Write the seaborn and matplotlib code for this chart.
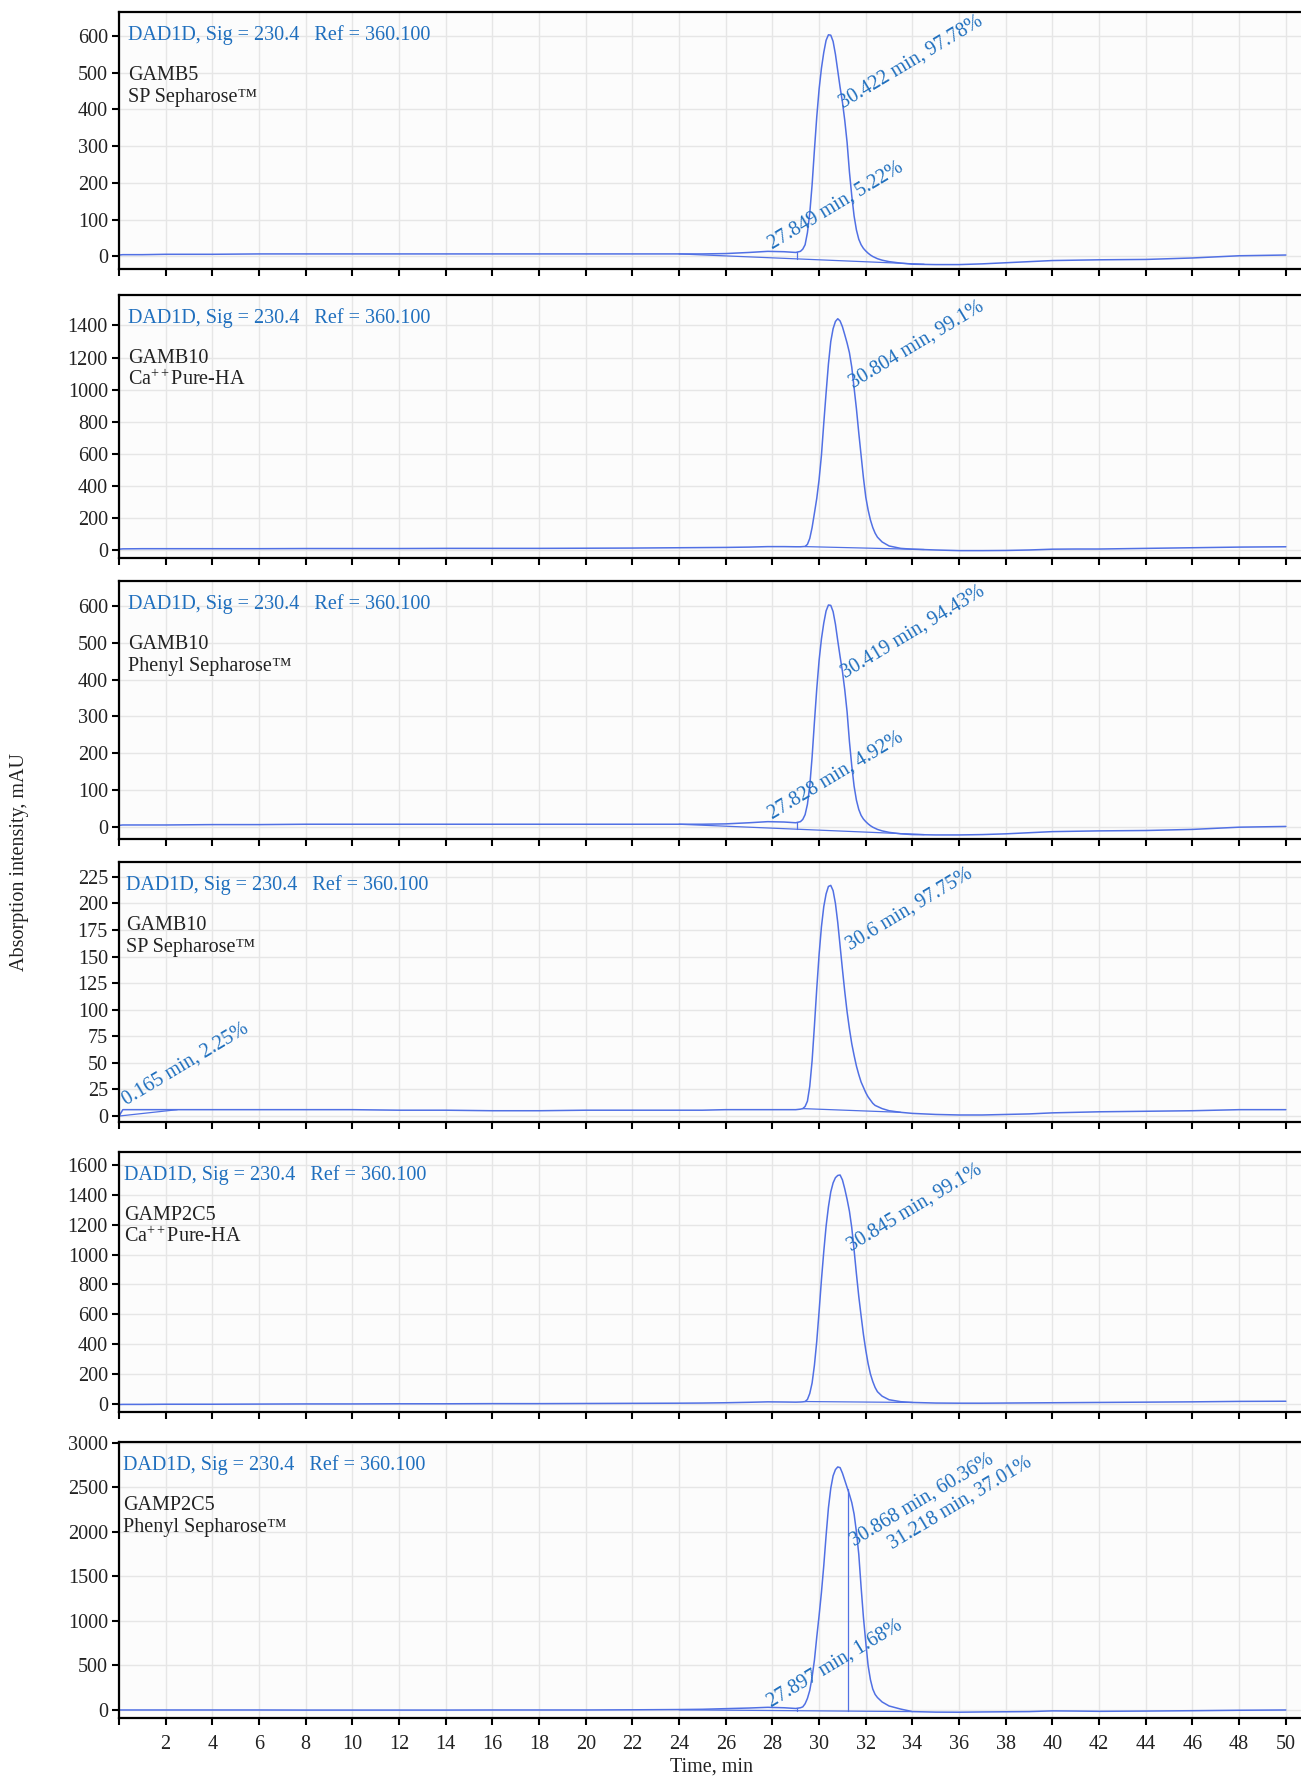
import numpy as np
import pandas as pd
import matplotlib
matplotlib.use("Agg")
import matplotlib.pyplot as plt
import seaborn as sns

# ---------------------------------------------------------------- data
# retention time grid shared by all six chromatograms (min)
time_min = [0, 0.165, 1, 2, 4, 6, 8, 10, 12, 14, 16, 18, 20, 22, 24, 25, 26, 27, 27.8, 28.5,
            29.0, 29.2, 29.3, 29.4,
            29.5, 29.6, 29.7, 29.8, 29.9, 30.0, 30.1, 30.2, 30.3, 30.4, 30.5, 30.6, 30.7, 30.8,
            30.9, 31.0, 31.1, 31.2, 31.3, 31.4, 31.5, 31.6, 31.7, 31.8, 31.9, 32.0, 32.1, 32.2,
            32.3, 32.4, 32.5,
            32.7, 33.0, 33.5, 34,
            35, 36, 37, 38, 39, 40, 41, 42,
            44, 46, 48, 50]

# absorbance at 230.4 nm (mAU)
gamb5_sp = [4, 5, 5, 6, 6, 7, 7, 7, 7, 7, 7, 7, 7, 7, 7, 7, 8, 11, 14, 13,
            11, 14, 20, 32,
            65, 118, 195, 290, 380, 455, 512, 555, 588, 603, 602, 585, 550, 505,
            460, 420, 370, 310, 230, 165, 110, 72, 47, 32, 22, 15, 9, 4,
            0, -3, -6,
            -10, -14, -18, -21,
            -22, -22, -20, -17, -14, -11, -10, -9,
            -8, -4, 2, 4]

gamb10_ca = [5, 7, 8, 8, 8, 8, 9, 9, 9, 10, 10, 10, 11, 12, 14, 15, 16, 18, 21, 21,
             20, 20, 21, 22,
             35, 72, 140, 230, 322, 440, 590, 790, 980, 1160, 1300, 1380, 1425, 1442,
             1428, 1392, 1342, 1290, 1230, 1140, 1010, 880, 730, 590, 450, 330, 250, 187,
             140, 105, 80,
             50, 25, 10, 5,
             0, -4, -4, -3, 0, 5, 6, 6,
             10, 14, 18, 20]

gamb10_phenyl = [5, 6, 6, 6, 7, 7, 8, 8, 8, 8, 8, 8, 8, 8, 8, 8, 9, 12, 15, 14,
                 12, 15, 21, 34,
                 62, 112, 190, 285, 375, 452, 510, 553, 586, 602, 601, 584, 550, 505,
                 462, 422, 372, 312, 232, 166, 111, 73, 48, 32, 22, 15, 9, 4,
                 0, -3, -6,
                 -10, -14, -18, -20,
                 -21, -21, -20, -18, -15, -12, -11, -10,
                 -9, -6, 0, 2]

gamb10_sp = [0, 6, 6, 6, 6, 6, 6, 6, 5.5, 5.5, 5, 5, 5.5, 5.5, 5.5, 5.5, 6, 6, 6, 6,
             6, 6.5, 7, 9,
             14, 28, 52, 85, 120, 152, 178, 197, 209, 216, 217, 212, 200, 182,
             160, 138, 117, 98, 82, 68, 57, 47, 39, 32, 27, 22, 18, 15,
             12, 10, 9,
             7, 5, 3.5, 2.5,
             1.5, 1, 1, 1.5, 2, 3, 3.5, 4,
             4.5, 5, 6, 6]

gamp2c5_ca = [-4, -3, -3, -2, -2, -1, 0, 0, 1, 1, 2, 2, 3, 4, 5, 6, 8, 11, 14, 13,
              12, 13, 14, 16,
              30, 70, 140, 260, 420, 620, 830, 1020, 1190, 1320, 1420, 1480, 1515, 1530,
              1533, 1500, 1440, 1370, 1290, 1180, 1030, 870, 720, 590, 465, 360, 270, 200,
              150, 110, 82,
              52, 28, 15, 10,
              6, 5, 5, 6, 7, 8, 9, 10,
              12, 14, 17, 18]

gamp2c5_phenyl = [0, 0, 0, 0, 0, 0, -1, -1, -1, -1, 0, 0, 0, 2, 5, 8, 15, 22, 30, 25,
                  17, 25, 35, 70,
                  130, 220, 370, 560, 820, 1060, 1320, 1620, 1960, 2270, 2490, 2630, 2700, 2730,
                  2722, 2660, 2580, 2500, 2420, 2330, 2200, 2000, 1750, 1380, 1040, 760, 500, 340,
                  235, 175, 140,
                  90, 45, 10, -18,
                  -24, -25, -22, -20, -18, -10, -12, -15,
                  -12, -8, -3, 0]

# integration baselines (time, mAU)
gamb5_sp_base_t, gamb5_sp_base_v = [24.0, 34.5], [7, -21]
gamb10_ca_base_t, gamb10_ca_base_v = [29.4, 34.5], [21, 3]
gamb10_phenyl_base_t, gamb10_phenyl_base_v = [24.0, 34.5], [8, -20]
gamb10_sp_base_t, gamb10_sp_base_v = [29.3, 33.5], [7, 3.5]
gamb10_sp_front_t, gamb10_sp_front_v = [0, 2.5], [0, 6]
gamp2c5_ca_base_t, gamp2c5_ca_base_v = [29.4, 34.0], [16, 10]
gamp2c5_phenyl_base_t, gamp2c5_phenyl_base_v = [24.0, 34.0], [2, -18]

# peak split times (min)
gamb5_sp_splits = [29.06]
gamb10_phenyl_splits = [29.05]
gamp2c5_phenyl_splits = [29.06, 31.218]

# sample names and integration results
sample_names = ["GAMB5", "GAMB10", "GAMB10", "GAMB10", "GAMP2C5", "GAMP2C5"]
resins = ["SP Sepharose™", "Ca$^{\\mathrm{++}}$Pure-HA", "Phenyl Sepharose™",
          "SP Sepharose™", "Ca$^{\\mathrm{++}}$Pure-HA", "Phenyl Sepharose™"]
peak_labels = [
    ["30.422 min, 97.78%", "27.849 min, 5.22%"],
    ["30.804 min, 99.1%"],
    ["30.419 min, 94.43%", "27.828 min, 4.92%"],
    ["30.6 min, 97.75%", "0.165 min, 2.25%"],
    ["30.845 min, 99.1%"],
    ["30.868 min, 60.36%", "31.218 min, 37.01%", "27.897 min, 1.68%"],
]
y_ticks = [range(0, 601, 100), range(0, 1401, 200), range(0, 601, 100),
           range(0, 226, 25), range(0, 1601, 200), range(0, 3001, 500)]
x_ticks = list(range(0, 51, 2))
signal_text = "DAD1D, Sig = 230.4   Ref = 360.100"

# ---------------------------------------------------------------- layout
W, H = 1301, 1778
TRACE = "#5170e4"
NOTE = "#1f6fbe"
INK = "#222222"
LEFT_PX = 119
boxes_px = [(12, 269), (295, 558), (581, 839), (862, 1122), (1152, 1412), (1442, 1718)]
y_limits = [(-34, 665), (-50, 1590), (-32, 667), (-5.6, 239), (-54, 1687), (-90, 3010)]
x_limits = (0, 50.65)
header_dx = [9, 9, 9, 7, 5, 4]
# anchor points of the rotated peak labels, in data units
label_pos = [
    [(31.05, 403), (27.97, 19)],
    [(31.45, 1010)],
    [(31.11, 404), (27.97, 22)],
    [(31.32, 156), (0.3, 10)],
    [(31.37, 1024)],
    [(31.52, 1846), (33.15, 1812), (27.95, 37)],
]

traces = [gamb5_sp, gamb10_ca, gamb10_phenyl, gamb10_sp, gamp2c5_ca, gamp2c5_phenyl]
baselines = [
    [(gamb5_sp_base_t, gamb5_sp_base_v)],
    [(gamb10_ca_base_t, gamb10_ca_base_v)],
    [(gamb10_phenyl_base_t, gamb10_phenyl_base_v)],
    [(gamb10_sp_base_t, gamb10_sp_base_v), (gamb10_sp_front_t, gamb10_sp_front_v)],
    [(gamp2c5_ca_base_t, gamp2c5_ca_base_v)],
    [(gamp2c5_phenyl_base_t, gamp2c5_phenyl_base_v)],
]
splits = [gamb5_sp_splits, [], gamb10_phenyl_splits, [], [], gamp2c5_phenyl_splits]

sns.set_theme(style="white")
plt.rcParams["font.family"] = ["Liberation Serif", "DejaVu Serif"]
plt.rcParams["mathtext.fontset"] = "custom"
plt.rcParams["mathtext.rm"] = "Liberation Serif"
plt.rcParams["mathtext.it"] = "Liberation Serif:italic"

FS = 14.5
fig = plt.figure(figsize=(W / 100, H / 100), dpi=100)
fig.patch.set_facecolor("white")

for i in range(6):
    top, bot = boxes_px[i]
    ax = fig.add_axes([LEFT_PX / W, 1 - bot / H, 1 - LEFT_PX / W, (bot - top) / H])
    ax.set_facecolor("#fcfcfc")

    df = pd.DataFrame({"time": time_min, "mAU": traces[i]})
    sns.lineplot(data=df, x="time", y="mAU", ax=ax, color=TRACE, linewidth=1.1,
                 estimator=None, sort=False)
    for bt, bv in baselines[i]:
        sns.lineplot(x=bt, y=bv, ax=ax, color=TRACE, linewidth=0.9,
                     estimator=None, sort=False)
    bt, bv = baselines[i][0]
    for s in splits[i]:
        top_v = np.interp(s, time_min, traces[i])
        low_v = np.interp(s, bt, bv)
        sns.lineplot(x=[s, s], y=[top_v, low_v], ax=ax, color=TRACE, linewidth=0.9,
                     estimator=None, sort=False)

    ax.set_xlim(*x_limits)
    ax.set_ylim(*y_limits[i])
    ax.set_xticks(x_ticks)
    ax.set_yticks(list(y_ticks[i]))
    if i == 5:
        ax.set_xticklabels(["" if t == 0 else str(t) for t in x_ticks])
    else:
        ax.set_xticklabels([])
    ax.set_xlabel("")
    ax.set_ylabel("")
    ax.grid(True, color="#e6e6e6", linewidth=1.0)
    ax.set_axisbelow(True)
    for side in ("left", "top", "bottom"):
        ax.spines[side].set_visible(True)
        ax.spines[side].set_color("black")
        ax.spines[side].set_linewidth(1.6)
    ax.spines["right"].set_visible(False)
    ax.tick_params(axis="both", which="major", direction="out", length=5, width=1.5,
                   color="black", labelcolor=INK, labelsize=FS, bottom=True, left=True)
    ax.tick_params(axis="y", pad=3)
    ax.tick_params(axis="x", pad=7)

    dx = header_dx[i]
    ax.annotate(signal_text, xy=(0, 1), xycoords="axes fraction", xytext=(dx, -28),
                textcoords="offset pixels", color=NOTE, fontsize=FS, va="baseline", ha="left")
    ax.annotate(sample_names[i], xy=(0, 1), xycoords="axes fraction", xytext=(dx, -68),
                textcoords="offset pixels", color=INK, fontsize=FS, va="baseline", ha="left")
    ax.annotate(resins[i], xy=(0, 1), xycoords="axes fraction", xytext=(dx, -90),
                textcoords="offset pixels", color=INK, fontsize=FS, va="baseline", ha="left")

    for text, (lx, ly) in zip(peak_labels[i], label_pos[i]):
        ax.text(lx, ly, text, color=NOTE, fontsize=FS, rotation=31,
                rotation_mode="anchor", ha="left", va="baseline")

fig.text(20 / W, 1 - 862 / H, "Absorption intensity, mAU", rotation=90,
         ha="center", va="center", fontsize=FS, color=INK)
fig.text(712 / W, 1 - 1767 / H, "Time, min", ha="center", va="center",
         fontsize=FS, color=INK)

fig.savefig("out.png", dpi=100, facecolor="white")
